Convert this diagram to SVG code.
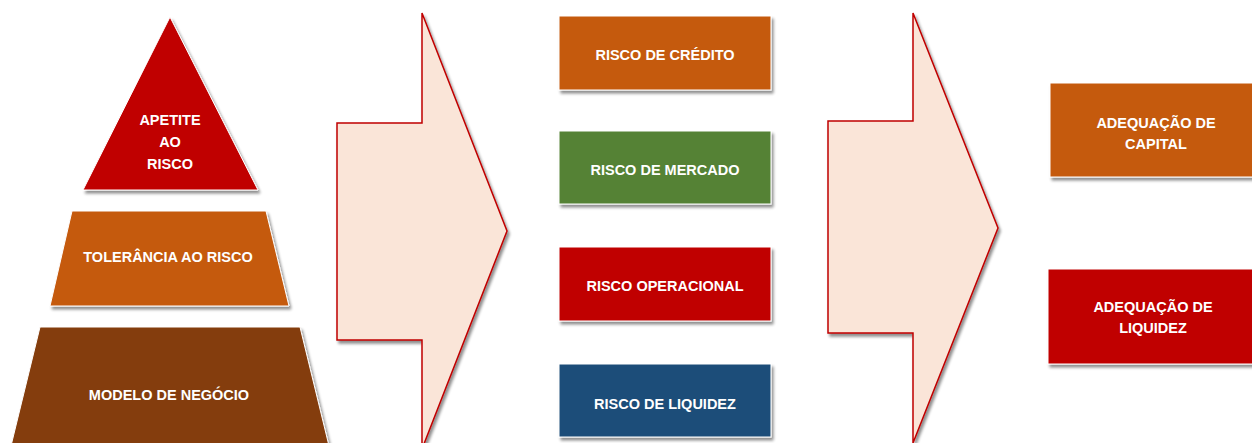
<svg xmlns="http://www.w3.org/2000/svg" width="1252" height="443" viewBox="0 0 1252 443">
<defs>
<filter id="sh" x="-10%" y="-10%" width="130%" height="130%">
<feGaussianBlur in="SourceAlpha" stdDeviation="1.5"/>
<feOffset dx="1.5" dy="2.5" result="b"/>
<feComponentTransfer><feFuncA type="linear" slope="0.45"/></feComponentTransfer>
<feMerge><feMergeNode/><feMergeNode in="SourceGraphic"/></feMerge>
</filter>
</defs>
<style>
.s{stroke:#ffffff;stroke-width:1;filter:url(#sh)}
.t{font-family:"Liberation Sans",Arial,sans-serif;font-weight:bold;font-size:14.5px;fill:#ffffff;text-anchor:middle}
.arr{fill:#FAE5D8;stroke:#C00000;stroke-width:1.5;filter:url(#sh)}
</style>
<rect width="1252" height="443" fill="#ffffff"/>
<g id="apetite">
<polygon class="s" points="170,17 258,190 83,190" fill="#C00000"/>
<text class="t" x="170" y="125">APETITE</text>
<text class="t" x="170" y="147">AO</text>
<text class="t" x="170" y="169">RISCO</text>
</g>
<g id="tolerancia">
<polygon class="s" points="72,211 266,211 289,306 50,306" fill="#C55A11"/>
<text class="t" x="168" y="262">TOLERÂNCIA AO RISCO</text>
</g>
<g id="modelo">
<polygon class="s" points="40,327 300,327 330,450 10,450" fill="#843C0C"/>
<text class="t" x="169" y="400">MODELO DE NEGÓCIO</text>
</g>
<g id="connectors">
<polygon class="arr" points="337,123 422,123 422,13 507,231 422,449 422,340 337,340"/>
<polygon class="arr" points="828,121 913,121 913,13 998,228 913,443 913,333 828,333"/>
</g>
<g id="credito">
<rect class="s" x="559" y="16" width="212" height="74" fill="#C55A11"/>
<text class="t" x="665" y="60">RISCO DE CRÉDITO</text>
</g>
<g id="mercado">
<rect class="s" x="559" y="131" width="212" height="73" fill="#548235"/>
<text class="t" x="665" y="175">RISCO DE MERCADO</text>
</g>
<g id="operacional">
<rect class="s" x="559" y="247" width="212" height="74" fill="#C00000"/>
<text class="t" x="665" y="291">RISCO OPERACIONAL</text>
</g>
<g id="liquidez">
<rect class="s" x="559" y="364" width="212" height="73" fill="#1F4E79"/>
<text class="t" x="665" y="409">RISCO DE LIQUIDEZ</text>
</g>
<g id="capital">
<rect class="s" x="1050" y="83" width="212" height="94" fill="#C55A11"/>
<text class="t" x="1156" y="128">ADEQUAÇÃO DE</text>
<text class="t" x="1156" y="149">CAPITAL</text>
</g>
<g id="adeq-liquidez">
<rect class="s" x="1048" y="269" width="212" height="95" fill="#C00000"/>
<text class="t" x="1153" y="312">ADEQUAÇÃO DE</text>
<text class="t" x="1153" y="333">LIQUIDEZ</text>
</g>
</svg>
